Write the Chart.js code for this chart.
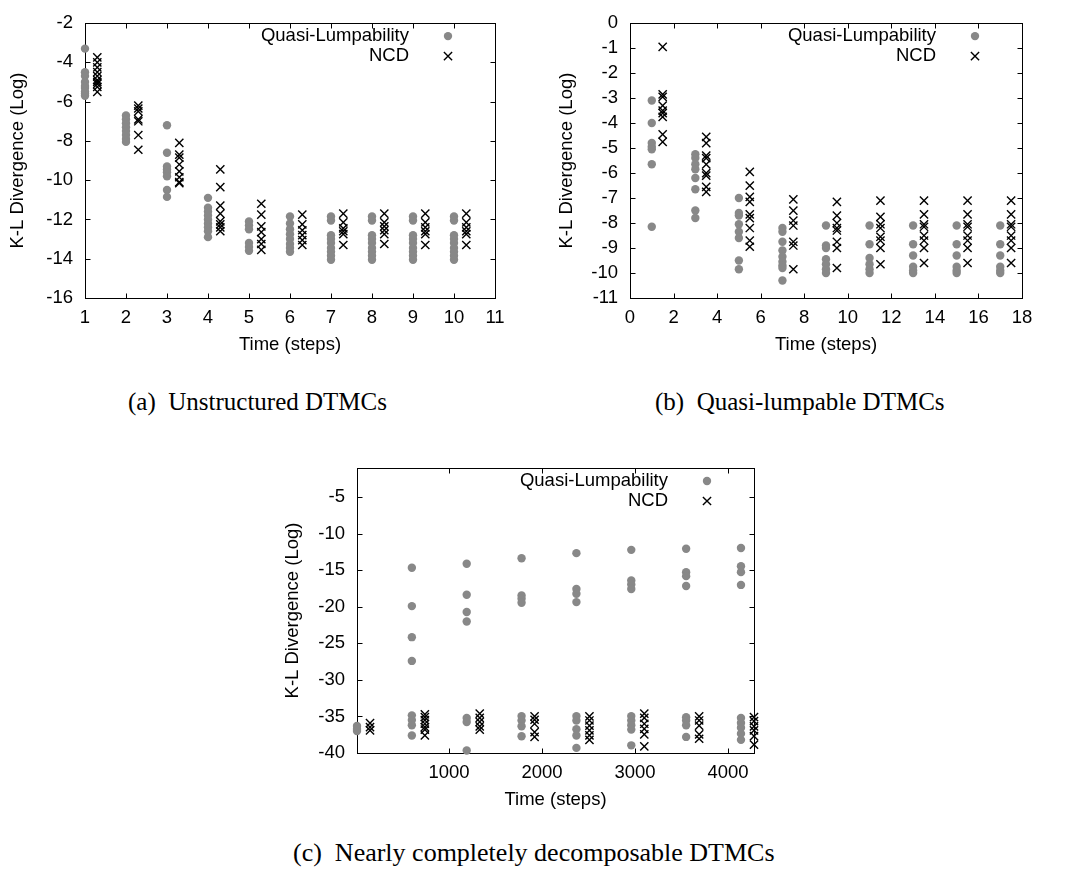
<!DOCTYPE html>
<html>
<head>
<meta charset="utf-8">
<script src="https://cdn.jsdelivr.net/npm/chart.js@4/dist/chart.umd.min.js"></script>
<style>
    body { margin: 0; background: #fff; width: 1067px; height: 872px; position: relative; overflow: hidden; }
    canvas { position: absolute; }
    .caption {
        position: absolute;
        font-family: 'Liberation Serif', 'Times New Roman', serif;
        font-size: 25px;
        line-height: 25px;
        white-space: pre;
        color: #000;
    }
</style>
</head>
<body>
<canvas id="chartA" width="520" height="370" style="left:0;top:0"></canvas>
<canvas id="chartB" width="547" height="370" style="left:520px;top:0"></canvas>
<canvas id="chartC" width="540" height="400" style="left:260px;top:430px"></canvas>
<div class="caption" style="left:128px;top:389px">(a)  Unstructured DTMCs</div>
<div class="caption" style="left:655px;top:389px">(b)  Quasi-lumpable DTMCs</div>
<div class="caption" style="left:293px;top:840px;font-size:26px;line-height:26px">(c)  Nearly completely decomposable DTMCs</div>
<script>
// Legend labels shared by all three panels
const seriesLabels = ['Quasi-Lumpability', 'NCD'];

// (a) Unstructured DTMCs
const unstructTimes = [1, 2, 3, 4, 5, 6, 7, 8, 9, 10];
const unstructNcdTimes = [1.3, 2.3, 3.3, 4.3, 5.3, 6.3, 7.3, 8.3, 9.3, 10.3];
const unstructQL = [
    [-3.3, -4.5, -4.7, -5.0, -5.2, -5.3, -5.5, -5.6, -5.7],
    [-6.7, -6.9, -7.1, -7.3, -7.5, -7.7, -7.9, -8.05],
    [-7.2, -8.6, -9.3, -9.45, -9.6, -9.8, -10.5, -10.85],
    [-10.9, -11.4, -11.6, -11.8, -12.0, -12.2, -12.4, -12.6, -12.9],
    [-12.1, -12.3, -12.5, -13.2, -13.4, -13.6],
    [-11.85, -12.2, -12.5, -12.75, -13.0, -13.25, -13.45, -13.65],
    [-11.85, -12.05, -12.8, -13.0, -13.2, -13.45, -13.65, -13.85, -14.05],
    [-11.85, -12.05, -12.8, -13.0, -13.2, -13.45, -13.65, -13.85, -14.05],
    [-11.85, -12.05, -12.8, -13.0, -13.2, -13.45, -13.65, -13.85, -14.05],
    [-11.85, -12.05, -12.8, -13.0, -13.2, -13.45, -13.65, -13.85, -14.05]
];
const unstructNCD = [
    [-3.75, -4.0, -4.25, -4.5, -4.7, -4.9, -5.0, -5.1, -5.25, -5.5],
    [-6.2, -6.35, -6.5, -6.9, -7.0, -7.7, -8.45],
    [-8.1, -8.7, -8.85, -9.2, -9.55, -9.85, -10.1, -10.15],
    [-9.45, -10.35, -11.3, -11.7, -12.1, -12.25, -12.4, -12.6],
    [-11.2, -11.75, -12.35, -12.65, -13.0, -13.25, -13.55],
    [-11.75, -12.25, -12.55, -12.8, -13.05, -13.3],
    [-11.7, -12.15, -12.45, -12.6, -12.75, -13.3],
    [-11.7, -12.15, -12.35, -12.55, -12.75, -13.25],
    [-11.7, -12.15, -12.4, -12.6, -12.75, -13.3],
    [-11.7, -12.15, -12.4, -12.6, -12.75, -13.3]
];
const unstructXTicks = [1, 2, 3, 4, 5, 6, 7, 8, 9, 10, 11];
const unstructYTicks = [-16, -14, -12, -10, -8, -6, -4, -2];

// (b) Quasi-lumpable DTMCs
const lumpTimes = [1, 3, 5, 7, 9, 11, 13, 15, 17];
const lumpNcdTimes = [1.5, 3.5, 5.5, 7.5, 9.5, 11.5, 13.5, 15.5, 17.5];
const lumpQL = [
    [-3.1, -4.0, -4.8, -4.95, -5.05, -5.65, -8.15],
    [-5.25, -5.4, -5.65, -5.85, -6.2, -6.65, -7.5, -7.8],
    [-7.0, -7.6, -7.7, -8.05, -8.35, -8.6, -9.5, -9.85],
    [-8.2, -8.35, -8.75, -9.1, -9.35, -9.55, -9.7, -9.8, -10.3],
    [-8.1, -8.9, -9.0, -9.45, -9.65, -9.85, -10.0],
    [-8.1, -8.85, -9.4, -9.65, -9.85, -10.0],
    [-8.1, -8.85, -9.3, -9.75, -9.9, -10.0],
    [-8.1, -8.85, -9.3, -9.75, -9.9, -10.0],
    [-8.1, -8.85, -9.3, -9.75, -9.9, -10.0]
];
const lumpNCD = [
    [-0.95, -2.85, -2.95, -3.3, -3.5, -3.6, -3.75, -4.45, -4.75],
    [-4.55, -4.8, -5.3, -5.4, -5.65, -6.0, -6.1, -6.55, -6.75],
    [-5.95, -6.5, -6.95, -7.15, -7.65, -7.8, -8.2, -8.7, -8.95],
    [-7.05, -7.5, -7.9, -8.1, -8.75, -8.9, -9.85],
    [-7.15, -7.7, -8.0, -8.2, -8.3, -8.75, -9.0, -9.8],
    [-7.1, -7.75, -8.05, -8.2, -8.55, -8.7, -9.0, -9.65],
    [-7.1, -7.65, -8.05, -8.15, -8.5, -8.7, -9.0, -9.6],
    [-7.1, -7.65, -8.05, -8.15, -8.5, -8.7, -9.0, -9.6],
    [-7.1, -7.65, -8.05, -8.15, -8.5, -8.7, -9.0, -9.6]
];
const lumpXTicks = [0, 2, 4, 6, 8, 10, 12, 14, 16, 18];
const lumpYTicks = [-11, -10, -9, -8, -7, -6, -5, -4, -3, -2, -1, 0];

// (c) Nearly completely decomposable DTMCs
const ncdTimes = [10, 600, 1190, 1780, 2370, 2960, 3550, 4140];
const ncdNcdTimes = [150, 740, 1330, 1920, 2510, 3100, 3690, 4280];
const ncdQL = [
    [-36.3, -36.7, -37.0],
    [-14.65, -19.9, -24.15, -27.4, -34.85, -35.5, -36.2, -37.6],
    [-14.1, -18.35, -20.7, -22.0, -35.2, -35.75, -39.65],
    [-13.35, -18.45, -18.9, -19.45, -34.95, -35.55, -36.35, -37.7],
    [-12.65, -17.55, -18.2, -19.35, -34.95, -35.55, -36.75, -37.6, -39.3],
    [-12.2, -16.4, -16.95, -17.55, -34.95, -35.55, -36.2, -36.8, -38.95],
    [-12.05, -15.25, -15.8, -17.15, -35.1, -35.55, -36.2, -37.8],
    [-11.95, -14.45, -15.25, -17.0, -35.2, -35.9, -36.55, -37.35, -38.2]
];
const ncdNCD = [
    [-35.9, -36.45, -36.9],
    [-34.7, -35.1, -35.5, -36.0, -36.45, -36.8, -37.6],
    [-34.6, -35.2, -35.75, -36.35, -36.8],
    [-35.0, -35.45, -36.0, -37.15, -37.8],
    [-35.0, -35.55, -36.25, -36.9, -37.6, -38.2],
    [-34.6, -35.2, -36.0, -36.7, -37.45, -39.1],
    [-35.0, -35.55, -36.25, -37.45, -38.05],
    [-35.1, -35.65, -36.35, -36.9, -37.7, -38.85]
];
const ncdXTicks = [1000, 2000, 3000, 4000];
const ncdYTicks = [-40, -35, -30, -25, -20, -15, -10, -5];

const FONT_SIZE = 18.5;
const LINE_H = FONT_SIZE * 1.2;
const baseFont = { family: "'Liberation Sans', Arial, sans-serif", size: FONT_SIZE };

function clusterPoints(times, groups) {
    const pts = [];
    groups.forEach((vals, i) => vals.forEach(v => pts.push({ x: times[i], y: v })));
    return pts;
}

// gnuplot style box with inward ticks on all four sides
const framePlugin = {
    id: 'frame',
    beforeDatasetsDraw(chart) {
        const { ctx, chartArea: a, scales: { x, y } } = chart;
        const L = Math.round(a.left) + 0.5, R = Math.round(a.right) + 0.5;
        const T = Math.round(a.top) + 0.5, B = Math.round(a.bottom) + 0.5;
        ctx.save();
        ctx.strokeStyle = '#000';
        ctx.lineWidth = 1;
        ctx.strokeRect(L, T, R - L, B - T);
        ctx.beginPath();
        x.ticks.forEach(t => {
            const px = Math.round(x.getPixelForValue(t.value)) + 0.5;
            ctx.moveTo(px, B); ctx.lineTo(px, B - 5);
            ctx.moveTo(px, T); ctx.lineTo(px, T + 5);
        });
        y.ticks.forEach(t => {
            const py = Math.round(y.getPixelForValue(t.value)) + 0.5;
            ctx.moveTo(L, py); ctx.lineTo(L + 5, py);
            ctx.moveTo(R, py); ctx.lineTo(R - 5, py);
        });
        ctx.stroke();
        ctx.restore();
    }
};

// key in the top right corner, text right-aligned and marker after it
const keyPlugin = {
    id: 'key',
    afterDatasetsDraw(chart) {
        const { ctx, chartArea: a } = chart;
        chart.data.datasets.forEach((ds, i) => {
            const yy = a.top + 13 + i * 20;
            ctx.save();
            ctx.font = `${FONT_SIZE}px ${baseFont.family}`;
            ctx.textAlign = 'right';
            ctx.textBaseline = 'middle';
            ctx.fillStyle = '#000';
            ctx.fillText(ds.label, a.right - 86, yy);
            ctx.restore();
            ctx.save();
            ctx.fillStyle = ds.backgroundColor;
            ctx.strokeStyle = ds.borderColor;
            ctx.lineWidth = ds.borderWidth;
            Chart.helpers.drawPoint(ctx, {
                pointStyle: ds.pointStyle,
                radius: ds.pointRadius,
                rotation: 0,
                borderWidth: ds.borderWidth
            }, a.right - 47, yy);
            ctx.restore();
        });
    }
};

function makePanel(id, geo, axes, qlPoints, ncdPoints) {
    const canvas = document.getElementById(id);
    return new Chart(canvas, {
        type: 'scatter',
        data: {
            datasets: [{
                label: seriesLabels[0],
                data: qlPoints,
                pointStyle: 'circle',
                pointRadius: 4.2,
                backgroundColor: '#888888',
                borderColor: '#888888',
                borderWidth: 0,
                clip: false
            }, {
                label: seriesLabels[1],
                data: ncdPoints,
                pointStyle: 'crossRot',
                pointRadius: 5.8,
                backgroundColor: '#000',
                borderColor: '#000',
                borderWidth: 1.4,
                clip: false
            }]
        },
        options: {
            responsive: false,
            animation: false,
            devicePixelRatio: 1,
            layout: {
                padding: { left: 0, top: geo.top, right: geo.w - geo.right, bottom: 0 }
            },
            plugins: {
                legend: { display: false },
                tooltip: { enabled: false }
            },
            scales: {
                x: {
                    type: 'linear',
                    min: axes.xMin,
                    max: axes.xMax,
                    grid: { display: false, drawTicks: false },
                    border: { display: false },
                    ticks: {
                        font: baseFont, color: '#000', padding: 20 - LINE_H / 2,
                        maxRotation: 0, autoSkip: false,
                        callback: v => String(v)
                    },
                    title: {
                        display: true,
                        text: 'Time (steps)',
                        font: baseFont,
                        color: '#000',
                        padding: { top: 0, bottom: geo.h - geo.bottom - 47 - LINE_H / 2 }
                    },
                    afterBuildTicks: s => { s.ticks = axes.xTicks.map(v => ({ value: v })); },
                    afterFit: s => { s.height = geo.h - geo.bottom; }
                },
                y: {
                    type: 'linear',
                    min: axes.yMin,
                    max: axes.yMax,
                    grid: { display: false, drawTicks: false },
                    border: { display: false },
                    ticks: { font: baseFont, color: '#000', padding: 12, autoSkip: false, callback: v => String(v) },
                    title: {
                        display: true,
                        text: 'K-L Divergence (Log)',
                        font: baseFont,
                        color: '#000',
                        padding: { top: geo.yTitleX - LINE_H / 2, bottom: 0 }
                    },
                    afterBuildTicks: s => { s.ticks = axes.yTicks.map(v => ({ value: v })); },
                    afterFit: s => { s.width = geo.left; }
                }
            }
        },
        plugins: [framePlugin, keyPlugin]
    });
}

makePanel('chartA',
    { w: 520, h: 370, left: 85, right: 495, top: 14, bottom: 298, yTitleX: 18 },
    { xMin: 1, xMax: 11, yMin: -16, yMax: -2, xTicks: unstructXTicks, yTicks: unstructYTicks },
    clusterPoints(unstructTimes, unstructQL),
    clusterPoints(unstructNcdTimes, unstructNCD));

makePanel('chartB',
    { w: 547, h: 370, left: 110, right: 502, top: 14, bottom: 298, yTitleX: 47 },
    { xMin: 0, xMax: 18, yMin: -11, yMax: 0, xTicks: lumpXTicks, yTicks: lumpYTicks },
    clusterPoints(lumpTimes, lumpQL),
    clusterPoints(lumpNcdTimes, lumpNCD));

makePanel('chartC',
    { w: 540, h: 400, left: 97, right: 494, top: 38, bottom: 323, yTitleX: 33 },
    { xMin: 10, xMax: 4280, yMin: -40, yMax: -1, xTicks: ncdXTicks, yTicks: ncdYTicks },
    clusterPoints(ncdTimes, ncdQL),
    clusterPoints(ncdNcdTimes, ncdNCD));
</script>
</body>
</html>
